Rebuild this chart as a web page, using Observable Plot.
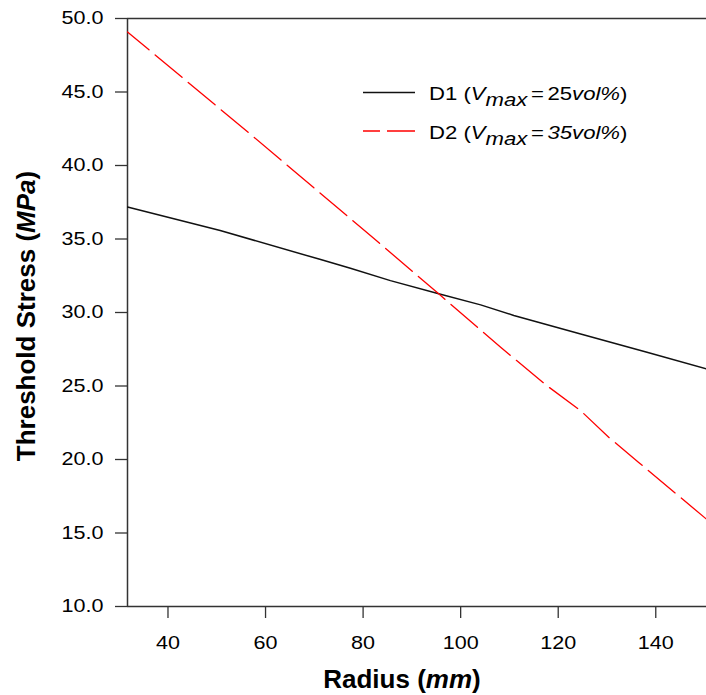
<!DOCTYPE html>
<html><head><meta charset="utf-8">
<script src="https://cdn.jsdelivr.net/npm/d3@7"></script>
<script src="https://cdn.jsdelivr.net/npm/@observablehq/plot@0.6"></script>
<style>
body{margin:0;background:#fff;}
#chart svg{font-family:"Liberation Sans",Arial,Helvetica,sans-serif;}
</style></head><body><div id="chart"></div>
<script>
// D1 (Vmax = 25 vol%)
const d1Radius = [31.7, 50.7, 71.3, 77.4, 85.6, 95.5, 104.1, 110.9, 124.6, 138.2, 150.4];
const d1Stress = [37.17, 35.58, 33.60, 33.01, 32.17, 31.27, 30.52, 29.80, 28.54, 27.29, 26.16];
// D2 (Vmax = 35 vol%)
const d2Radius = [31.7, 57.6, 81.5, 95.5, 108.2, 117.7, 124.6, 130.4, 136.5, 150.4];
const d2Stress = [49.09, 41.93, 35.24, 31.27, 27.63, 25.02, 23.32, 21.50, 19.80, 15.94];
const xTicks = [40, 60, 80, 100, 120, 140];
const yTicks = [10, 15, 20, 25, 30, 35, 40, 45, 50];
const xDomain = [31.7, 150.4];
const yDomain = [10, 50];

const d1 = d1Radius.map((r, i) => ({r, s: d1Stress[i]}));
const d2 = d2Radius.map((r, i) => ({r, s: d2Stress[i]}));

const chart = Plot.plot({
  width: 706, height: 695,
  marginLeft: 127, marginRight: 0, marginTop: 18, marginBottom: 89,
  style: {fontFamily: '"Liberation Sans",Arial,sans-serif', fontSize: "18.6px", color: "#000", background: "#fff", overflow: "visible"},
  x: {domain: xDomain, ticks: xTicks, label: null, tickSize: 12, tickPadding: 17},
  y: {domain: yDomain, ticks: yTicks, tickFormat: d => d.toFixed(1), label: null, tickSize: 12, tickPadding: 12},
  marks: [
    Plot.ruleX([xDomain[0]], {stroke: "#333", strokeWidth: 1.5}),
    Plot.ruleY(yDomain, {stroke: "#333", strokeWidth: 1.5}),
    Plot.line(d1, {x: "r", y: "s", stroke: "#111", strokeWidth: 1.5, clip: true}),
    Plot.line(d2, {x: "r", y: "s", stroke: "#ff0000", strokeWidth: 1.3, strokeDasharray: "35,8", strokeDashoffset: 7, clip: true})
  ]
});
document.getElementById("chart").appendChild(chart);

const svg = d3.select(chart);
svg.selectAll("[aria-label='x-axis tick'], [aria-label='y-axis tick']").attr("stroke", "#333").attr("stroke-width", 1.3);

// widen text horizontally about its anchor
function stretch(nodes, s) {
  nodes.each(function () {
    const b = this.getBBox();
    const ta = getComputedStyle(this).textAnchor;
    const ax = ta === "end" ? b.x + b.width : ta === "middle" ? b.x + b.width / 2 : b.x;
    const t = this.getAttribute("transform") || "";
    this.setAttribute("transform", `${t} translate(${ax},0) scale(${s},1) translate(${-ax},0)`);
  });
}
stretch(svg.selectAll("[aria-label='x-axis tick label'] text, [aria-label='y-axis tick label'] text"), 1.16);

// axis titles
const xt = svg.append("text").attr("x", 402).attr("y", 688).attr("text-anchor", "middle")
  .attr("font-size", 26).attr("font-weight", "bold").attr("fill", "#000");
xt.append("tspan").text("Radius (");
xt.append("tspan").attr("font-style", "italic").text("mm");
xt.append("tspan").text(")");

const yt = svg.append("text").attr("transform", "translate(35,316) rotate(-90)").attr("text-anchor", "middle")
  .attr("font-size", 26).attr("font-weight", "bold").attr("fill", "#000");
yt.append("tspan").text("Threshold Stress (");
yt.append("tspan").attr("font-style", "italic").text("MPa");
yt.append("tspan").text(")");

// legend
const leg = svg.append("g").attr("font-size", 18.6).attr("fill", "#000").attr("text-anchor", "start");
leg.append("line").attr("x1", 363).attr("x2", 415).attr("y1", 92.5).attr("y2", 92.5).attr("stroke", "#111").attr("stroke-width", 1.5);
leg.append("line").attr("x1", 363).attr("x2", 415).attr("y1", 131).attr("y2", 131).attr("stroke", "#ff0000").attr("stroke-width", 1.3).attr("stroke-dasharray", "17,7,35,8");
function legendRow(y, name, num, numItalic) {
  const t = leg.append("text").attr("x", 429).attr("y", y);
  t.append("tspan").text(name + " (");
  t.append("tspan").attr("font-style", "italic").text("V");
  t.append("tspan").attr("font-style", "italic").attr("dy", 6).text("max");
  t.append("tspan").attr("dy", -6).attr("dx", 3).text("=");
  t.append("tspan").attr("font-style", numItalic ? "italic" : "normal").attr("dx", 3).text(num);
  t.append("tspan").attr("font-style", "italic").text("vol%");
  t.append("tspan").text(")");
  return t;
}
legendRow(100, "D1", "25", false);
legendRow(139, "D2", "35", true);
stretch(leg.selectAll("text"), 1.19);
</script></body></html>
